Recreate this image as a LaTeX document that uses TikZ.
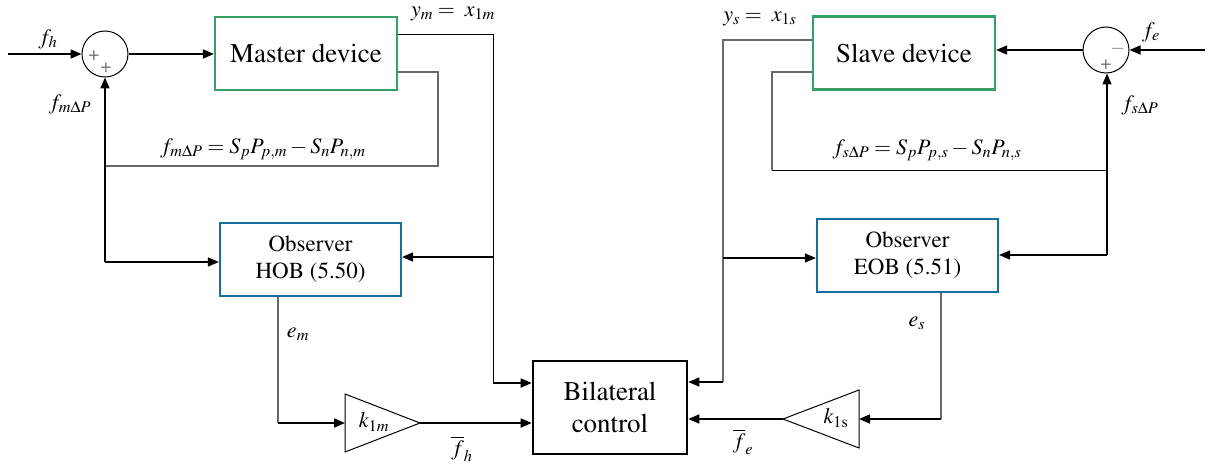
\documentclass[tikz,border=0pt]{standalone}
\usepackage[T1]{fontenc}
\usepackage{mathptmx}
\usetikzlibrary{arrows.meta,calc}
\definecolor{devgreen}{RGB}{55,160,105}
\definecolor{obsblue}{RGB}{25,110,160}
\definecolor{lgray}{RGB}{105,105,105}
\tikzset{
  arr/.style={line width=1.6pt,-{Triangle[length=11pt,width=9pt]}},
  thk/.style={line width=1.6pt},
  thn/.style={line width=1pt,black},
  gln/.style={line width=1.3pt,lgray},
  devbox/.style={draw=devgreen,line width=2.2pt,minimum width=182pt,minimum height=73pt,inner sep=0pt,font=\fontsize{27}{32}\selectfont},
  obsbox/.style={draw=obsblue,line width=2.2pt,minimum width=181pt,minimum height=73pt,inner sep=0pt,align=center,font=\fontsize{23}{27}\selectfont},
  bilbox/.style={draw=black,line width=2.6pt,minimum width=154pt,minimum height=93pt,inner sep=0pt,align=center,font=\fontsize{27}{32}\selectfont},
  sumc/.style={draw,circle,line width=1pt,minimum size=46pt,inner sep=0pt},
  sgn/.style={text=lgray,font=\fontsize{19}{19}\selectfont,inner sep=0pt},
  lbl/.style={inner sep=0pt,font=\fontsize{22}{26}\selectfont},
  tri/.style={line width=1pt}
}
\begin{document}
\begin{tikzpicture}[x=1pt,y=-1pt]
\useasboundingbox (0,0) rectangle (1210,468);
% blocks
\node[sumc] (sumM) at (105,54) {};
\node[devbox] (master) at (306,53.5) {Master device};
\node[devbox] (slave) at (904,53) {Slave device};
\node[sumc] (sumS) at (1106,50) {};
\node[obsbox] (hob) at (310.5,259.5) {Observer\\HOB (5.50)};
\node[obsbox] (eob) at (907.5,255.5) {Observer\\EOB (5.51)};
\node[bilbox] (bil) at (610,407.5) {Bilateral\\control};
% gains
\coordinate (kmIn) at (345,423);
\coordinate (kmOut) at (420,423);
\coordinate (ksIn) at (859,419);
\coordinate (ksOut) at (783,419);
\draw[tri] (345,394) -- (kmOut) -- (345,452) -- cycle;
\draw[tri] (859,390) -- (ksOut) -- (859,448) -- cycle;
\node[lbl] (kmL) at (374,422) {$k_{1m}$};
\node[lbl] (ksL) at (836,418) {$k_{1\mathrm{s}}$};
% signs
\node[sgn] (p1) at (94,56) {+};
\node[sgn] (p2) at (106,68) {+};
\node[sgn] (m3) at (1118,49) {$-$};
\node[sgn] (p4) at (1106,65) {+};
% coordinates
\coordinate (fhIn) at (8,54);
\coordinate (feIn) at (1205,50);
\coordinate (ymC) at (493,35);
\coordinate (ymB) at (493,383);
\coordinate (ymH) at (493,257);
\coordinate (fmA) at (438,72);
\coordinate (fmB) at (438,166);
\coordinate (fmC) at (105,166);
\coordinate (fmD) at (105,262);
\coordinate (emA) at (278,423);
\coordinate (ysC) at (723,40);
\coordinate (ysB) at (723,382);
\coordinate (ysE) at (723,258);
\coordinate (fsA) at (772,72);
\coordinate (fsB) at (772,170);
\coordinate (fsC) at (1107,170);
\coordinate (fsD) at (1107,255);
\coordinate (esA) at (941,419);
% master side
\draw[arr] (fhIn) -- (sumM.west);
\draw[arr] (sumM.east) -- (master.west |- sumM.east);
\draw[thn] (master.east |- ymC) -- (ymC) -- (ymB);
\draw[arr] (ymB) -- (bil.west |- ymB);
\draw[arr] (ymH) -- (hob.east |- ymH);
\draw[gln] (master.east |- fmA) -- (fmA) -- (fmB) -- (fmC);
\draw[arr] (fmC) -- (sumM.south);
\draw[thk] (fmC) -- (fmD);
\draw[arr] (fmD) -- (hob.west |- fmD);
\draw[gln] (hob.south -| emA) -- (emA);
\draw[arr] (emA) -- (kmIn);
\draw[arr] (kmOut) -- (bil.west |- kmOut);
% slave side
\draw[arr] (feIn) -- (sumS.east);
\draw[arr] (sumS.west) -- (slave.east |- sumS.west);
\draw[gln] (slave.west |- ysC) -- (ysC) -- (ysB);
\draw[arr] (ysB) -- (bil.east |- ysB);
\draw[arr] (ysE) -- (eob.west |- ysE);
\draw[gln] (slave.west |- fsA) -- (fsA) -- (fsB);
\draw[thn] (fsB) -- (fsC);
\draw[thk] (fsD) -- (fsC);
\draw[arr] (fsC) -- (sumS.south -| fsC);
\draw[arr] (fsD) -- (eob.east |- fsD);
\draw[gln] (eob.south -| esA) -- (esA);
\draw[arr] (esA) -- (ksIn);
\draw[arr] (ksOut) -- (bil.east |- ksOut);
% labels
\node[lbl] (lym) at (453,14) {$y_m = \; x_{1m}$};
\node[lbl] (lys) at (760,19) {$y_s = \; x_{1s}$};
\node[lbl] (lfh) at (48,39) {$f_h$};
\node[lbl] (lfe) at (1151,32) {$f_e$};
\node[lbl] (lfm) at (70,104) {$f_{m\Delta P}$};
\node[lbl] (lfs) at (1140,105) {$f_{s\Delta P}$};
\node[lbl] (eqm) at (263,149) {$f_{m\Delta P} = S_pP_{p,m} - S_nP_{n,m}$};
\node[lbl] (eqs) at (927,150) {$f_{s\Delta P} = S_pP_{p,s} - S_nP_{n,s}$};
\node[lbl] (lem) at (298,334) {$e_m$};
\node[lbl] (les) at (917,323) {$e_s$};
\node[lbl] (lfhb) at (462,449) {$\overline{f}_h$};
\node[lbl] (lfeb) at (743,442) {$\overline{f}_e$};
\end{tikzpicture}
\end{document}
